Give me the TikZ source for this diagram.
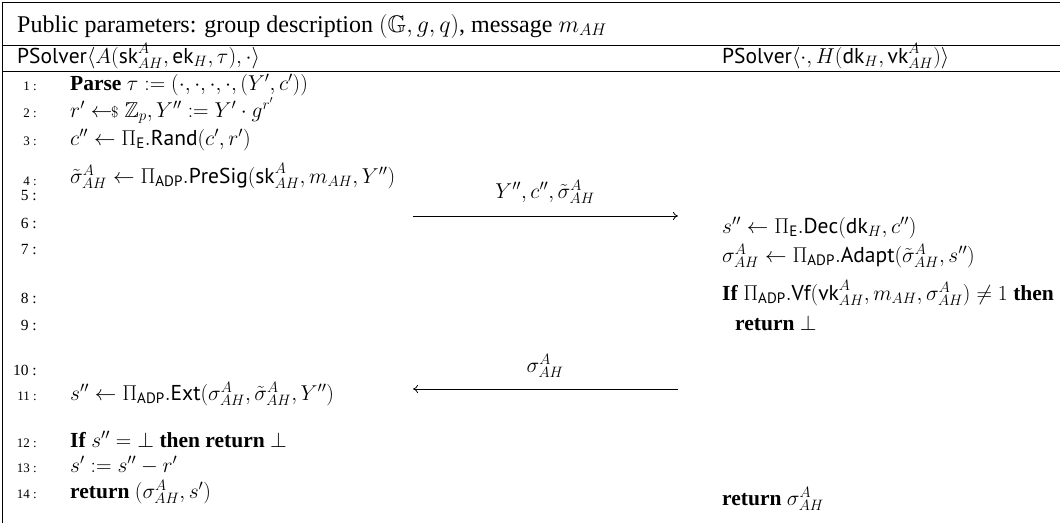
\RequirePackage{fix-cm}
\documentclass[tikz,border=0pt]{standalone}
\usepackage{amsmath,amssymb}
\usepackage{fontspec}
\setmainfont{Liberation Serif}
\setsansfont{PT Sans}
\usetikzlibrary{arrows.meta}
\newcommand{\sfx}[1]{\mathsf{#1}}
\tikzset{
  hdr/.style={font=\fontsize{24}{27}\selectfont, anchor=base west, inner sep=0pt},
  code/.style={font=\fontsize{21.5}{24}\selectfont, anchor=base west, inner sep=0pt},
  lnum/.style={font=\fontsize{13}{15}\selectfont, anchor=base east, inner sep=0pt},
  lnumb/.style={font=\fontsize{15.5}{17}\selectfont, anchor=base east, inner sep=0pt},
  rule/.style={line width=0.9pt},
  msg/.style={line width=0.8pt, -{To[length=5pt,width=8pt]}},
  lbl/.style={font=\fontsize{21.5}{24}\selectfont, anchor=base, inner sep=0pt}
}
\begin{document}
\begin{tikzpicture}[x=1pt,y=-1pt]
\useasboundingbox (0,0) rectangle (1060,523);
% frame
\coordinate (tl) at (2,2);
\coordinate (tr) at (1060,2);
\coordinate (bl) at (2,523);
\coordinate (h1l) at (2,45);
\coordinate (h1r) at (1060,45);
\coordinate (h2l) at (2,71);
\coordinate (h2r) at (1060,71);
\draw[rule] (tr) -- (tl) -- (bl);
\draw[rule] (h1l) -- (h1r);
\draw[rule] (h2l) -- (h2r);
% header
\node[hdr] (pp) at (17,32) {Public parameters: group description $(\mathbb{G}, g, q)$, message $m_{AH}$};
\node[code] (psl) at (17,63) {$\sfx{PSolver}\langle A(\sfx{sk}^A_{AH}, \sfx{ek}_H, \tau), \cdot\rangle$};
\node[code] (psr) at (722,63) {$\sfx{PSolver}\langle \cdot, H(\sfx{dk}_H, \sfx{vk}^A_{AH})\rangle$};
% line numbers
\node[lnum] (n1) at (37,90) {1 :};
\node[lnum] (n2) at (37,117) {2 :};
\node[lnum] (n3) at (37,145) {3 :};
\node[lnum] (n4) at (37,185) {4 :};
\node[lnumb] (n5) at (37,200) {5 :};
\node[lnumb] (n6) at (37,228) {6 :};
\node[lnumb] (n7) at (37,254) {7 :};
\node[lnumb] (n8) at (37,303) {8 :};
\node[lnumb] (n9) at (37,330) {9 :};
\node[lnumb] (n10) at (37,375) {10 :};
\node[lnum] (n11) at (37,400) {11 :};
\node[lnum] (n12) at (37,447) {12 :};
\node[lnum] (n13) at (37,472) {13 :};
\node[lnum] (n14) at (37,498) {14 :};
% left column
\node[code] (l1) at (70,90) {\textbf{Parse} $\tau := (\cdot,\cdot,\cdot,\cdot,(Y',c'))$};
\node[code] (l2) at (70,117) {$r' \mathrel{\leftarrow\!\!{\scriptstyle\$}}\mathbb{Z}_p, Y'' := Y' \cdot g^{r'}$};
\node[code] (l3) at (70,145) {$c'' \leftarrow \Pi_{\sfx{E}}.\sfx{Rand}(c', r')$};
\node[code] (l4) at (70,183) {$\tilde{\sigma}^A_{AH} \leftarrow \Pi_{\sfx{ADP}}.\sfx{PreSig}(\sfx{sk}^A_{AH}, m_{AH}, Y'')$};
\node[code] (l11) at (70,400) {$s'' \leftarrow \Pi_{\sfx{ADP}}.\sfx{Ext}(\sigma^A_{AH}, \tilde{\sigma}^A_{AH}, Y'')$};
\node[code] (l12) at (70,447) {\textbf{If} $s'' = \bot$ \textbf{then return} $\bot$};
\node[code] (l13) at (70,472) {$s' := s'' - r'$};
\node[code] (l14) at (70,498) {\textbf{return} $(\sigma^A_{AH}, s')$};
% right column
\node[code] (r6) at (722,233) {$s'' \leftarrow \Pi_{\sfx{E}}.\sfx{Dec}(\sfx{dk}_H, c'')$};
\node[code] (r7) at (722,262) {$\sigma^A_{AH} \leftarrow \Pi_{\sfx{ADP}}.\sfx{Adapt}(\tilde{\sigma}^A_{AH}, s'')$};
\node[code] (r8) at (722,300) {\textbf{If} $\Pi_{\sfx{ADP}}.\sfx{Vf}(\sfx{vk}^A_{AH}, m_{AH}, \sigma^A_{AH}) \neq 1$ \textbf{then}};
\node[code] (r9) at (735,330) {\textbf{return} $\bot$};
\node[code] (r14) at (722,505) {\textbf{return} $\sigma^A_{AH}$};
% messages
\coordinate (m1s) at (413,216);
\coordinate (m1e) at (678,216);
\draw[msg] (m1s) -- (m1e);
\node[lbl] (m1l) at (545,198) {$Y'', c'', \tilde{\sigma}^A_{AH}$};
\coordinate (m2s) at (678,389);
\coordinate (m2e) at (413,389);
\draw[msg] (m2s) -- (m2e);
\node[lbl] (m2l) at (545,372) {$\sigma^A_{AH}$};
\end{tikzpicture}
\end{document}
